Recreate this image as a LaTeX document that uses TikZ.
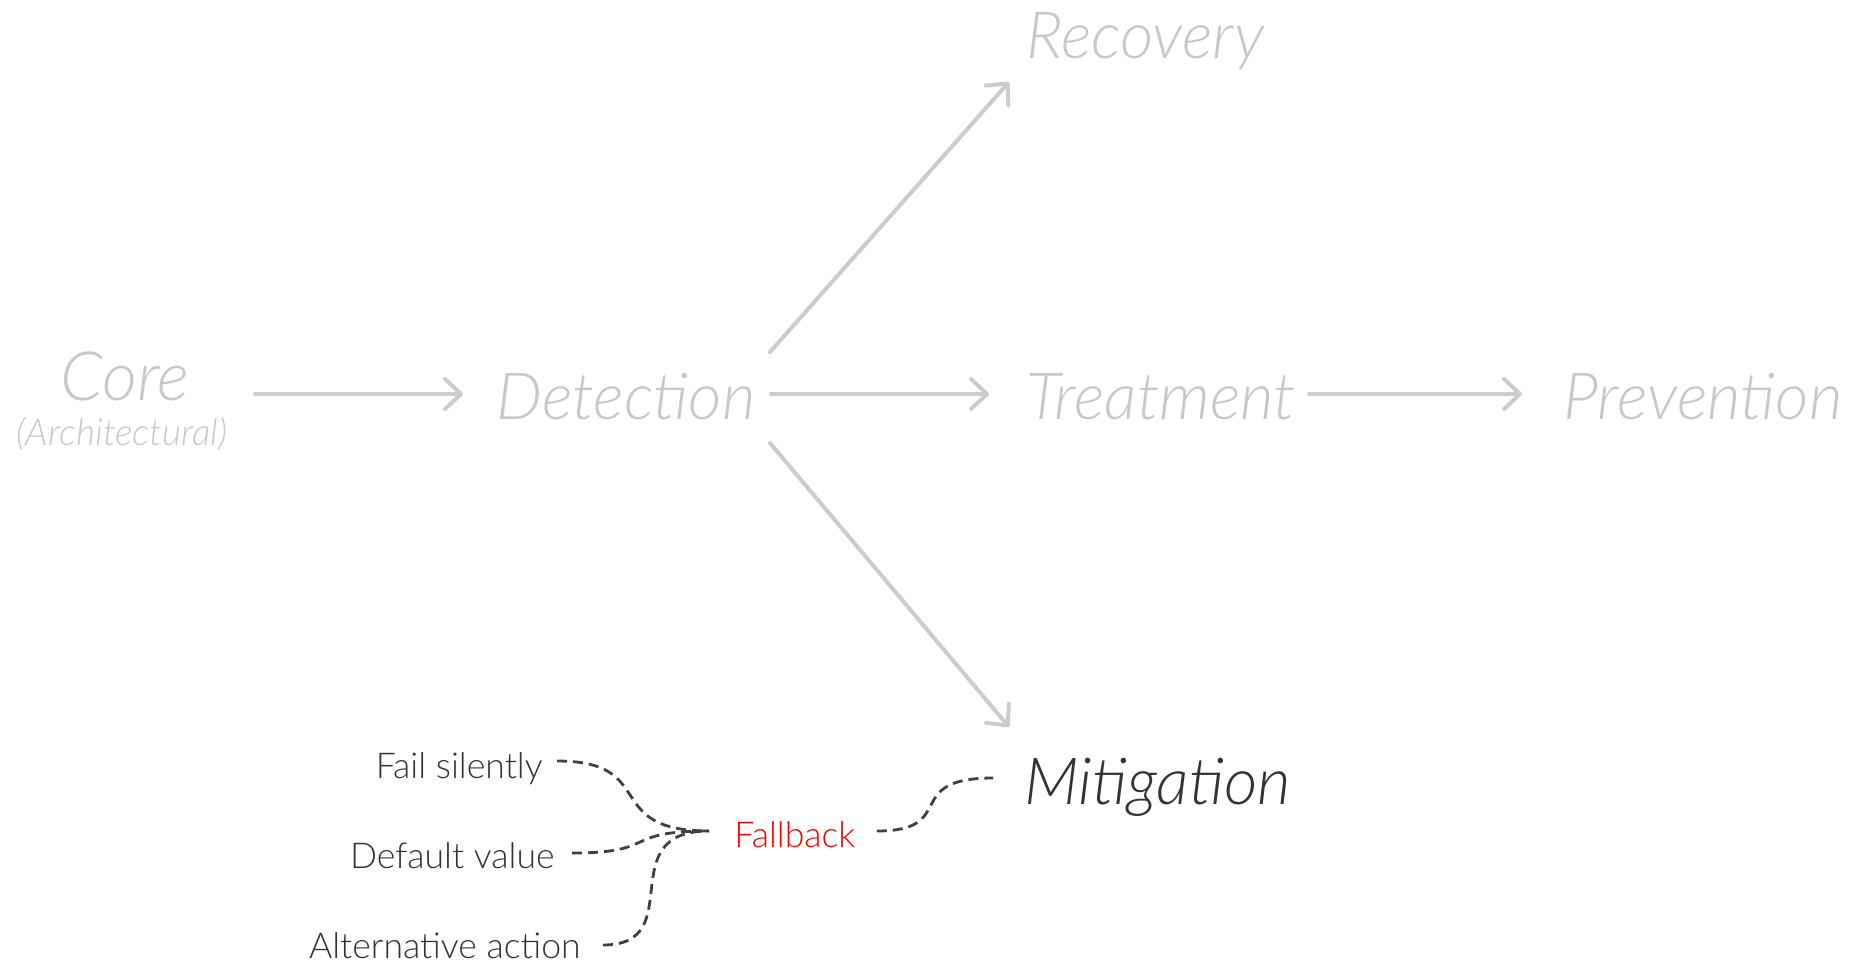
\documentclass[tikz,border=0pt]{standalone}
\usepackage{fontspec}
\usetikzlibrary{arrows.meta}
\newfontfamily\lightsans{Lato Light}[ItalicFont={Lato Light Italic}]
\definecolor{faded}{HTML}{C8C8C8}
\definecolor{fadedline}{HTML}{CCCCCC}
\definecolor{ink}{HTML}{333333}
\definecolor{dashink}{HTML}{404040}
\definecolor{alert}{HTML}{FF0000}
\begin{document}
\begin{tikzpicture}[x=0.5pt,y=-0.5pt,
  stage/.style={inner sep=0pt,font=\lightsans\itshape\fontsize{32.5}{38}\selectfont,text=faded},
  active/.style={stage,text=ink},
  note/.style={inner sep=0pt,font=\lightsans\itshape\fontsize{18.5}{22}\selectfont,text=faded},
  option/.style={inner sep=0pt,font=\lightsans\fontsize{17.8}{21}\selectfont,text=ink},
  flow/.style={draw=fadedline,line width=2pt,line cap=round,
    -{Straight Barb[length=8pt,width=15pt,line cap=round,line join=round]}},
  link/.style={draw=dashink,line width=1.4pt,dash pattern=on 5pt off 3pt}]
\useasboundingbox (0,0) rectangle (1862,969);

% stages
\node[stage,font=\lightsans\itshape\fontsize{34}{40}\selectfont,anchor=base] (core) at (125,400) {Core};
\node[note,anchor=base] (arch) at (122,445) {(Architectural)};
\node[stage,anchor=base west] (det) at (496,419) {Detection};
\node[stage,anchor=base west] (treat) at (1026,419) {Treatment};
\node[stage,anchor=base west] (prev) at (1563,419) {Prevention};
\node[stage,anchor=base west] (rec) at (1026,58) {Recovery};
\node[active,anchor=base west] (mit) at (1024,804) {Mitigation};

% fallback and its options
\node[option,text=alert,anchor=base west] (fb) at (734,847) {Fallback};
\node[option,anchor=base east] (fail) at (543,778) {Fail silently};
\node[option,anchor=base east] (def) at (555,868) {Default value};
\node[option,anchor=base east] (alt) at (581,958) {Alternative action};

% flow between stages
\draw[flow] ([shift={(130,-6)}]core.base) -- ([shift={(-33,-25)}]det.base west);
\draw[flow] ([shift={(275,-25)}]det.base west) -- ([shift={(-37,-25)}]treat.base west);
\draw[flow] ([shift={(283,-25)}]treat.base west) -- ([shift={(-41,-25)}]prev.base west);
\draw[flow] ([shift={(274,-67)}]det.base west) -- ([shift={(-17,24)}]rec.base west);
\draw[flow] ([shift={(274,24)}]det.base west) -- ([shift={(-15,-77)}]mit.base west);

% dashed links
\draw[link] ([shift={(14,-17)}]fail.base east) .. controls (660,761) and (600,831) .. ([shift={(-25,-16)}]fb.base west);
\draw[link] ([shift={(17,-15)}]def.base east) .. controls (660,853) and (620,831) .. ([shift={(-25,-16)}]fb.base west);
\draw[link] ([shift={(22,-13)}]alt.base east) .. controls (690,945) and (610,831) .. ([shift={(-25,-16)}]fb.base west);
\draw[link] ([shift={(21,-16)}]fb.base east) .. controls (960,831) and (900,778) .. ([shift={(-31,-26)}]mit.base west);
\end{tikzpicture}
\end{document}
